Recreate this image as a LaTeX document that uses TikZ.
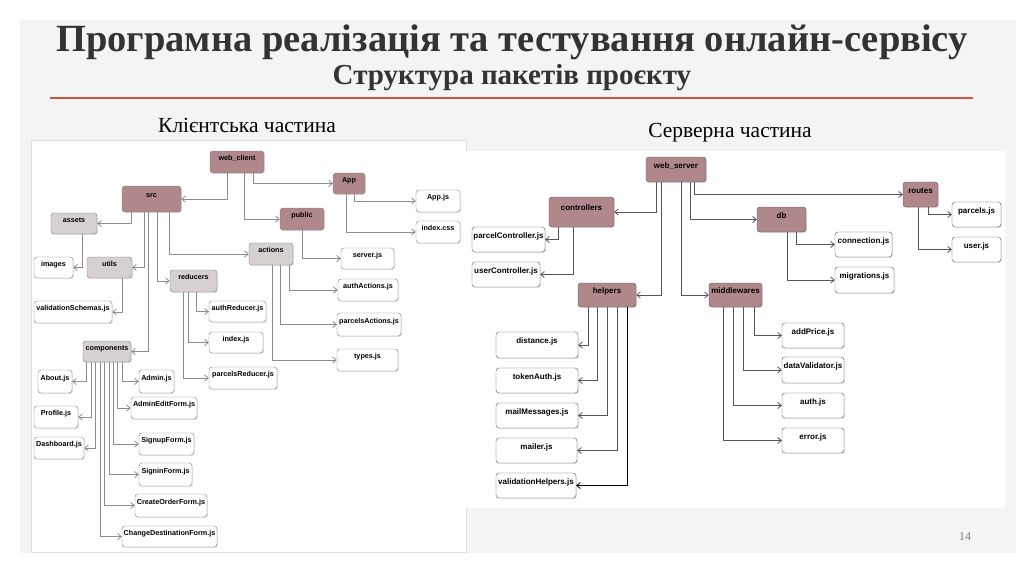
\documentclass[tikz,border=0pt]{standalone}
\usepackage{fontspec}
\setmainfont{Liberation Serif}
\newfontfamily\diagfont{Liberation Sans}
\usetikzlibrary{arrows.meta,shadows}

\definecolor{slidegray}{RGB}{244,244,244}
\definecolor{pkgrose}{RGB}{176,135,139}
\definecolor{pkglight}{RGB}{214,208,208}
\definecolor{boxline}{RGB}{125,125,125}
\definecolor{linkgray}{RGB}{140,140,140}
\definecolor{linkdark}{RGB}{85,85,85}
\definecolor{rulered}{RGB}{208,82,60}
\definecolor{titlegray}{RGB}{51,51,51}

\tikzset{
  filebox/.style={draw=boxline, rounded corners=3pt, fill=white, inner sep=0pt,
    drop shadow={shadow xshift=1pt, shadow yshift=-1pt, opacity=0.2, fill=gray},
    text height=5pt, text depth=7.5pt, font=\diagfont\bfseries\fontsize{7.2}{8}\selectfont},
  pkgbox/.style={filebox, fill=pkgrose},
  subbox/.style={filebox, fill=pkglight},
  srvfile/.style={filebox, draw=linkdark, text height=5.5pt, text depth=8.5pt,
    font=\diagfont\bfseries\fontsize{8}{9}\selectfont},
  srvpkg/.style={srvfile, fill=pkgrose},
  link/.style={draw=linkgray, line width=0.8pt, -{Straight Barb[length=3.5pt,width=6pt]}},
  srvlink/.style={link, draw=linkdark},
}

\begin{document}
\begin{tikzpicture}[x=1pt, y=-1pt]
    \useasboundingbox (0,0) rectangle (1024,574);
    \fill[white] (0,0) rectangle (1024,574);
    \fill[slidegray] (20,20) rectangle (1016,553);
    \node[anchor=base, text=titlegray, font=\bfseries\fontsize{38.5}{42}\selectfont] (title) at (512,51) {Програмна реалізація та тестування онлайн-сервісу};
    \node[anchor=base, text=titlegray, font=\bfseries\fontsize{29}{32}\selectfont] (subtitle) at (512,84) {Структура пакетів проєкту};
    \draw[rulered, line width=2.5pt] (50,98) -- (973,98);
    \node[anchor=base, font=\fontsize{21.5}{24}\selectfont] (client_title) at (247,132) {Клієнтська частина};
    \node[anchor=base, font=\fontsize{21.5}{24}\selectfont] (server_title) at (730,137) {Серверна частина};
    \node[text=gray, font=\fontsize{12}{14}\selectfont] (pagenum) at (965,537) {14};
    \filldraw[fill=white, draw=gray!25] (31,140) rectangle (466,552);
    \fill[white] (466,151) rectangle (1005,508);

    % client part
    \node[pkgbox, minimum width=54, minimum height=22] (web_client) at (237,162) {web\_client};
    \node[pkgbox, minimum width=59, minimum height=26] (src) at (151.5,199) {src};
    \node[pkgbox, minimum width=32, minimum height=21] (app) at (349,183.5) {App};
    \node[pkgbox, minimum width=44, minimum height=22] (public) at (302,219) {public};
    \node[subbox, minimum width=46, minimum height=21] (assets) at (74,223.5) {assets};
    \node[filebox, minimum width=39, minimum height=21] (images) at (53.5,267.5) {images};
    \node[subbox, minimum width=45, minimum height=21] (utils) at (109.5,267.5) {utils};
    \node[filebox, minimum width=78, minimum height=22] (val_schemas) at (73,312) {validationSchemas.js};
    \node[subbox, minimum width=47, minimum height=22] (reducers) at (193.5,281) {reducers};
    \node[subbox, minimum width=44, minimum height=22] (actions) at (271,254) {actions};
    \node[filebox, minimum width=44, minimum height=22] (app_js) at (438,201) {App.js};
    \node[filebox, minimum width=44, minimum height=22] (index_css) at (438,232) {index.css};
    \node[filebox, minimum width=53, minimum height=21] (server_js) at (367.5,258.5) {server.js};
    \node[filebox, minimum width=60, minimum height=22] (auth_actions) at (368,290) {authActions.js};
    \node[filebox, minimum width=64, minimum height=23] (parcels_actions) at (369,324.5) {parcelsActions.js};
    \node[filebox, minimum width=61, minimum height=22] (types_js) at (367.5,360) {types.js};
    \node[filebox, minimum width=57, minimum height=21] (auth_reducer) at (237.5,311.5) {authReducer.js};
    \node[filebox, minimum width=54, minimum height=21] (index_js) at (236,342.5) {index.js};
    \node[filebox, minimum width=68, minimum height=22] (parcels_reducer) at (243,378) {parcelsReducer.js};
    \node[subbox, minimum width=48, minimum height=21] (components) at (107,351.5) {components};
    \node[filebox, minimum width=34, minimum height=23] (about_js) at (55,381.5) {About.js};
    \node[filebox, minimum width=44, minimum height=22] (profile_js) at (56,417) {Profile.js};
    \node[filebox, minimum width=50, minimum height=22] (dashboard_js) at (59,448) {Dashboard.js};
    \node[filebox, minimum width=35, minimum height=23] (admin_js) at (156.5,381.5) {Admin.js};
    \node[filebox, minimum width=66, minimum height=22] (admin_edit) at (164,408) {AdminEditForm.js};
    \node[filebox, minimum width=55, minimum height=22] (signup_form) at (166.5,444) {SignupForm.js};
    \node[filebox, minimum width=53, minimum height=23] (signin_form) at (165.5,474.5) {SigninForm.js};
    \node[filebox, minimum width=72, minimum height=23] (create_order) at (171,505.5) {CreateOrderForm.js};
    \node[filebox, minimum width=95, minimum height=21] (change_dest) at (169.5,536.5) {ChangeDestinationForm.js};

    \draw[link] ([xshift=-10]web_client.south) |- (src.east);
    \draw[link] ([xshift=16]web_client.south) |- (app.west);
    \draw[link] ([xshift=7]web_client.south) |- (public.west);
    \draw[link] ([xshift=5]app.south) |- (app_js.west);
    \draw[link] ([xshift=-3]app.south) |- (index_css.west);
    \draw[link] (public.south) |- (server_js.west);
    \draw[link] ([xshift=18]actions.south) |- (auth_actions.west);
    \draw[link] ([xshift=9]actions.south) |- (parcels_actions.west);
    \draw[link] ([xshift=1]actions.south) |- (types_js.west);
    \draw[link] ([xshift=-20.5]src.south) |- (assets.east);
    \draw[link] ([xshift=-7.5]src.south) |- (utils.east);
    \draw[link] ([xshift=-3.5]src.south) |- (components.east);
    \draw[link] ([xshift=5.5]src.south) |- (reducers.west);
    \draw[link] ([xshift=17.5]src.south) |- (actions.west);
    \draw[link] ([xshift=8]assets.south) |- (images.east);
    \draw[link] ([xshift=12.5]utils.south) |- (val_schemas.east);
    \draw[link] ([xshift=2.5]reducers.south) |- (auth_reducer.west);
    \draw[link] ([xshift=-5.5]reducers.south) |- (index_js.west);
    \draw[link] ([xshift=-10.5]reducers.south) |- (parcels_reducer.west);
    \draw[link] ([xshift=-21]components.south) |- (about_js.east);
    \draw[link] ([xshift=-16]components.south) |- (profile_js.east);
    \draw[link] ([xshift=-12]components.south) |- (dashboard_js.east);
    \draw[link] ([xshift=-7]components.south) |- (change_dest.west);
    \draw[link] ([xshift=-3]components.south) |- (create_order.west);
    \draw[link] ([xshift=2]components.south) |- (signin_form.west);
    \draw[link] ([xshift=6]components.south) |- (signup_form.west);
    \draw[link] ([xshift=10]components.south) |- (admin_edit.west);
    \draw[link] ([xshift=15]components.south) |- (admin_js.west);

    % server part
    \node[srvpkg, minimum width=60, minimum height=25] (web_server) at (676,169.5) {web\_server};
    \node[srvpkg, minimum width=65, minimum height=30] (controllers) at (581.5,212) {controllers};
    \node[srvfile, minimum width=73, minimum height=25] (parcel_ctrl) at (508.5,239.5) {parcelController.js};
    \node[srvfile, minimum width=68, minimum height=25] (user_ctrl) at (506,274.5) {userController.js};
    \node[srvpkg, minimum width=58, minimum height=24] (helpers) at (607,295) {helpers};
    \node[srvfile, minimum width=82, minimum height=26] (distance_js) at (537,345) {distance.js};
    \node[srvfile, minimum width=82, minimum height=25] (token_auth) at (537,380.5) {tokenAuth.js};
    \node[srvfile, minimum width=82, minimum height=25] (mail_messages) at (537,415.5) {mailMessages.js};
    \node[srvfile, minimum width=81, minimum height=25] (mailer_js) at (536.5,450.5) {mailer.js};
    \node[srvfile, minimum width=80, minimum height=25] (val_helpers) at (536,485.5) {validationHelpers.js};
    \node[srvpkg, minimum width=35, minimum height=25] (routes) at (920.5,194.5) {routes};
    \node[srvfile, minimum width=49, minimum height=25] (parcels_js) at (976.5,214.5) {parcels.js};
    \node[srvfile, minimum width=49, minimum height=25] (user_js) at (976.5,249.5) {user.js};
    \node[srvpkg, minimum width=49, minimum height=25] (db) at (781.5,219.5) {db};
    \node[srvfile, minimum width=57, minimum height=25] (connection_js) at (863.5,244.5) {connection.js};
    \node[srvfile, minimum width=59, minimum height=26] (migrations_js) at (864.5,280) {migrations.js};
    \node[srvpkg, minimum width=53, minimum height=24] (middlewares) at (735.5,295) {middlewares};
    \node[srvfile, minimum width=62, minimum height=25] (add_price) at (813,335.5) {addPrice.js};
    \node[srvfile, minimum width=62, minimum height=26] (data_validator) at (813,370) {dataValidator.js};
    \node[srvfile, minimum width=62, minimum height=25] (auth_js) at (813,405.5) {auth.js};
    \node[srvfile, minimum width=62, minimum height=25] (error_js) at (813,440.5) {error.js};

    \draw[srvlink] ([xshift=-20]web_server.south) |- (controllers.east);
    \draw[srvlink] ([xshift=-15]web_server.south) |- (helpers.east);
    \draw[srvlink] ([xshift=5]web_server.south) |- (middlewares.west);
    \draw[srvlink] ([xshift=14]web_server.south) |- (db.west);
    \draw[srvlink] ([xshift=18]web_server.south) |- (routes.west);
    \draw[srvlink] ([xshift=7.5]routes.south) |- (parcels_js.west);
    \draw[srvlink] ([xshift=-2.5]routes.south) |- (user_js.west);
    \draw[srvlink] ([xshift=14.5]db.south) |- (connection_js.west);
    \draw[srvlink] ([xshift=5.5]db.south) |- (migrations_js.west);
    \draw[srvlink] ([xshift=-23.5]controllers.south) |- (parcel_ctrl.east);
    \draw[srvlink] ([xshift=-8.5]controllers.south) |- (user_ctrl.east);
    \draw[srvlink] ([xshift=-19]helpers.south) |- (distance_js.east);
    \draw[srvlink] ([xshift=-10]helpers.south) |- (token_auth.east);
    \draw[srvlink] (helpers.south) |- (mail_messages.east);
    \draw[srvlink] ([xshift=10]helpers.south) |- (mailer_js.east);
    \draw[srvlink, draw=black] ([xshift=20]helpers.south) |- (val_helpers.east);
    \draw[srvlink] ([xshift=18.5]middlewares.south) |- (add_price.west);
    \draw[srvlink] ([xshift=7.5]middlewares.south) |- (data_validator.west);
    \draw[srvlink] ([xshift=-2.5]middlewares.south) |- (auth_js.west);
    \draw[srvlink] ([xshift=-12.5]middlewares.south) |- (error_js.west);
\end{tikzpicture}
\end{document}
